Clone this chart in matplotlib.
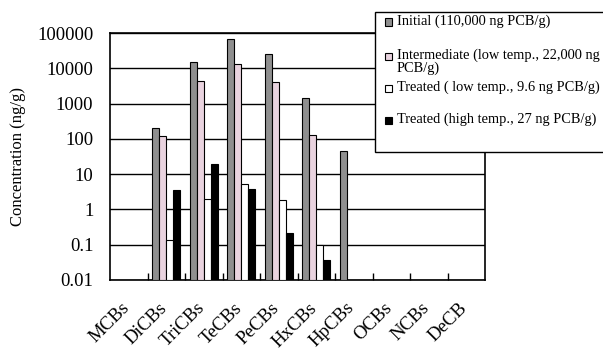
import matplotlib.pyplot as plt
import matplotlib.patches as mpatches
import matplotlib.transforms as mtransforms
import numpy as np

# PCB homologue concentrations (ng/g)
categories = ['MCBs', 'DiCBs', 'TriCBs', 'TeCBs', 'PeCBs', 'HxCBs', 'HpCBs', 'OCBs', 'NCBs', 'DeCB']
initial = [np.nan, 205, 15000, 66000, 25000, 1450, 44, np.nan, np.nan, np.nan]
intermediate = [np.nan, 120, 4500, 13000, 4200, 125, np.nan, np.nan, np.nan, np.nan]
treated_low = [np.nan, 0.135, 1.95, 5.4, 1.8, 0.1, np.nan, np.nan, np.nan, np.nan]
treated_high = [np.nan, 3.5, 20, 3.9, 0.22, 0.037, np.nan, np.nan, np.nan, np.nan]

labels = ['Initial (110,000 ng PCB/g)',
          'Intermediate (low temp., 22,000 ng\nPCB/g)',
          'Treated ( low temp., 9.6 ng PCB/g)',
          'Treated (high temp., 27 ng PCB/g)']
colors = ['#8f8f8f', '#e9d3df', '#ffffff', '#000000']

plt.rcParams['font.family'] = ['Liberation Serif', 'DejaVu Serif']

W, H = 603, 352
fig = plt.figure(figsize=(W / 100, H / 100), dpi=100)
ax = fig.add_axes([110 / W, 1 - 280 / H, 375 / W, 247 / H])

series = [initial, intermediate, treated_low, treated_high]
x = np.arange(len(categories))
width = 0.185
for i, (vals, col) in enumerate(zip(series, colors)):
    vals = np.array(vals, dtype=float)
    ok = ~np.isnan(vals)
    ax.bar(x[ok] + (i - 1.5) * width, vals[ok] - 0.01, width, bottom=0.01,
           color=col, edgecolor='black', linewidth=0.8, zorder=3)

ax.set_yscale('log')
ax.set_ylim(0.01, 100000)
ax.set_xlim(-0.5, len(categories) - 0.5)
yt = [0.01, 0.1, 1, 10, 100, 1000, 10000, 100000]
ax.set_yticks(yt)
ax.set_yticklabels(['0.01', '0.1', '1', '10', '100', '1000', '10000', '100000'])
ax.yaxis.set_minor_locator(plt.NullLocator())
ax.tick_params(axis='y', length=0, pad=12, labelsize=13.5)
ax.grid(True, axis='y', color='black', linewidth=1, zorder=0)

ax.set_xticks(x)
ax.set_xticklabels(categories, rotation=45, ha='right', rotation_mode='anchor')
ax.set_xticks(np.arange(0.5, len(categories) - 0.5), minor=True)
ax.tick_params(axis='x', which='major', length=0, pad=14, labelsize=13.5)
ax.tick_params(axis='x', which='minor', direction='in', length=5, width=1)
shift = mtransforms.ScaledTranslation(-8 / 100, 0, fig.dpi_scale_trans)
for lbl in ax.get_xticklabels():
    lbl.set_transform(lbl.get_transform() + shift)

for s in ax.spines.values():
    s.set_linewidth(1.2)

ax.set_ylabel('Concentration (ng/g)', fontsize=12, labelpad=8)

# legend box, partly running off the right edge like the original
fig.patches.append(mpatches.Rectangle((375 / W, 1 - 152 / H), 240 / W, 140 / H,
                                      transform=fig.transFigure, facecolor='white',
                                      edgecolor='black', linewidth=1, zorder=5))
ys = [22, 56, 88, 120]
for lab, col, y in zip(labels, colors, ys):
    fig.patches.append(mpatches.Rectangle((385 / W, 1 - (y + 3.5) / H), 7 / W, 7 / H,
                                          transform=fig.transFigure, facecolor=col,
                                          edgecolor='black', linewidth=0.8, zorder=6))
    fig.text(397 / W, 1 - (y - 7) / H, lab, fontsize=10.4, va='top', ha='left',
             linespacing=0.95, zorder=7)

fig.savefig('out.png', dpi=100)
